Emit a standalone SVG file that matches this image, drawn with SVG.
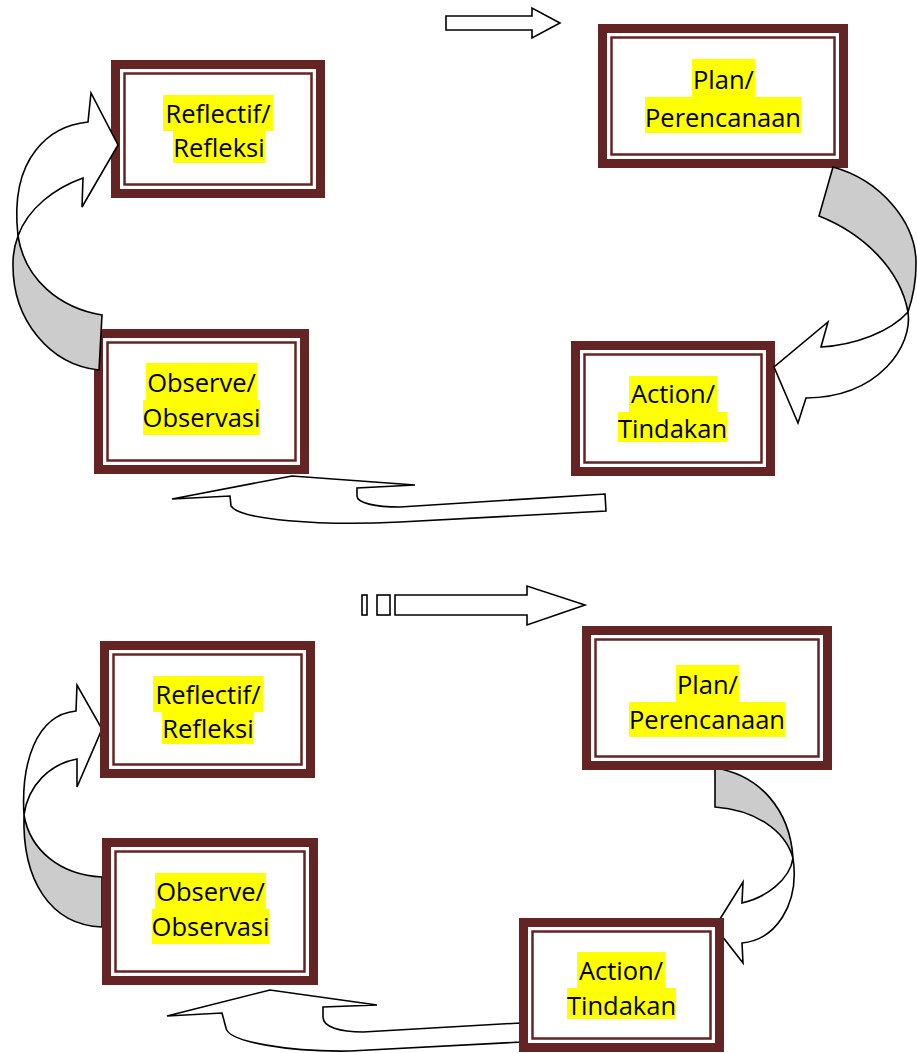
<svg xmlns="http://www.w3.org/2000/svg" width="917" height="1053" viewBox="0 0 917 1053">
<style>
.outer{fill:#652424}
.gap{fill:#ffffff}
.line{fill:#ffffff;stroke:#652424;stroke-width:2.5}
.hl{fill:#ffff00}
.lbl{font-family:"Open Sans","Noto Sans",sans-serif;font-size:25.5px;fill:#000;text-anchor:middle}
.arw{fill:#ffffff;stroke:#000;stroke-width:1.6;stroke-linejoin:miter}
.back{fill:#cccccc;stroke:#000;stroke-width:1.6;stroke-linejoin:miter}
</style>
<rect width="917" height="1053" fill="#ffffff"/>

<!-- top cycle nodes -->
<g id="reflectif1">
<rect class="outer" x="111" y="60" width="214" height="138"/>
<rect class="gap" x="120" y="69" width="196" height="120"/>
<rect class="line" x="124.5" y="73.5" width="187" height="111"/>
<rect class="hl" x="163" y="95" width="110" height="36"/>
<rect class="hl" x="173" y="131" width="92" height="32"/>
<text class="lbl" x="218" y="123">Reflectif/</text>
<text class="lbl" x="219" y="157">Refleksi</text>
</g>
<g id="plan1">
<rect class="outer" x="598" y="24" width="250" height="144"/>
<rect class="gap" x="607" y="33" width="232" height="126"/>
<rect class="line" x="611.5" y="37.5" width="223" height="117"/>
<rect class="hl" x="692" y="59" width="63" height="38"/>
<rect class="hl" x="645" y="97" width="156" height="36"/>
<text class="lbl" x="723.5" y="89">Plan/</text>
<text class="lbl" x="723" y="127">Perencanaan</text>
</g>
<g id="observe1">
<rect class="outer" x="94" y="329" width="215" height="145"/>
<rect class="gap" x="103" y="338" width="197" height="127"/>
<rect class="line" x="107.5" y="342.5" width="188" height="118"/>
<rect class="hl" x="146" y="363" width="111" height="37"/>
<rect class="hl" x="143" y="400" width="117" height="35"/>
<text class="lbl" x="201.5" y="392">Observe/</text>
<text class="lbl" x="201.5" y="427">Observasi</text>
</g>
<g id="action1">
<rect class="outer" x="571" y="341" width="204" height="135"/>
<rect class="gap" x="580" y="350" width="186" height="117"/>
<rect class="line" x="584.5" y="354.5" width="177" height="108"/>
<rect class="hl" x="629" y="376" width="88" height="36"/>
<rect class="hl" x="618" y="412" width="109" height="30"/>
<text class="lbl" x="673" y="403">Action/</text>
<text class="lbl" x="672.5" y="438">Tindakan</text>
</g>

<!-- top cycle connectors -->
<g id="connectors-top">
<polygon class="arw" points="446,16 532,16 532,8 560,23 532,38 532,30 446,30"/>
<path class="back" d="M833,167 C880,180 917,222 916,265 C916,285 912,300 908,312 C900,268 862,233 819,216 Z"/>
<path class="arw" d="M908,312 C913,345 880,397 806,398 L798,423 L774,367 L828,322 L821,347 C855,345 890,332 908,312 Z"/>
<path class="arw" d="M172,499 L292,476 L415,485 L357,488 L357,496 C357,503 375,507 400,507 L605,494 L606,511 L400,522 C320,526 240,520 231,506 L230,496 Z"/>
<path class="back" d="M18,236 C25,280 60,308 102,315 L99,370 C50,365 12,320 13,263 C13,252 15,244 18,236 Z"/>
<path class="arw" d="M88,122 L91,93 L118,145 L82,207 L83,178 C55,188 28,208 18,236 C14,200 20,170 36,150 C50,132 68,124 88,122 Z"/>
</g>

<!-- bottom cycle connectors -->
<g id="connectors-bottom">
<rect class="arw" x="362" y="595" width="5" height="20"/>
<rect class="arw" x="377" y="595" width="13" height="20"/>
<polygon class="arw" points="395,595 527,595 527,586 585,605 527,625 527,615 395,615"/>
<path class="back" d="M715,768 C760,775 790,810 793,858 C785,830 755,810 715,807 Z"/>
<path class="arw" d="M793,858 C800,905 775,940 742,943 L743,963 L715,927 L743,882 L742,903 C765,898 790,880 793,858 Z"/>
<path class="arw" d="M167,1016 L270,990 L377,1005 L323,1007 L323,1017 C323,1027 340,1032 363,1032 L520,1023 L521,1042 L350,1051 C290,1052 228,1042 226,1028 L222,1013 Z"/>
<path class="back" d="M24,815 C30,850 60,875 102,877 L102,927 C50,925 22,880 24,815 Z"/>
<path class="arw" d="M76,711 L77,685 L102,729 L77,787 L77,759 C50,764 28,785 24,815 C21,765 35,715 76,711 Z"/>
</g>

<!-- bottom cycle nodes -->
<g id="reflectif2">
<rect class="outer" x="100" y="641" width="215" height="137"/>
<rect class="gap" x="109" y="650" width="197" height="119"/>
<rect class="line" x="113.5" y="654.5" width="188" height="110"/>
<rect class="hl" x="153" y="676" width="110" height="36"/>
<rect class="hl" x="162" y="712" width="92" height="32"/>
<text class="lbl" x="208" y="704">Reflectif/</text>
<text class="lbl" x="208" y="738">Refleksi</text>
</g>
<g id="plan2">
<rect class="outer" x="582" y="626" width="250" height="144"/>
<rect class="gap" x="591" y="635" width="232" height="126"/>
<rect class="line" x="595.5" y="639.5" width="223" height="117"/>
<rect class="hl" x="676" y="665" width="63" height="37"/>
<rect class="hl" x="629" y="702" width="156" height="35"/>
<text class="lbl" x="707.5" y="694">Plan/</text>
<text class="lbl" x="707" y="729">Perencanaan</text>
</g>
<g id="observe2">
<rect class="outer" x="102" y="838" width="216" height="147"/>
<rect class="gap" x="111" y="847" width="198" height="129"/>
<rect class="line" x="115.5" y="851.5" width="189" height="120"/>
<rect class="hl" x="155" y="873" width="111" height="36"/>
<rect class="hl" x="152" y="909" width="117" height="35"/>
<text class="lbl" x="210.5" y="901">Observe/</text>
<text class="lbl" x="210.5" y="936">Observasi</text>
</g>
<g id="action2">
<rect class="outer" x="519" y="918" width="205" height="134"/>
<rect class="gap" x="528" y="927" width="187" height="116"/>
<rect class="line" x="532.5" y="931.5" width="178" height="107"/>
<rect class="hl" x="577" y="952" width="88" height="36"/>
<rect class="hl" x="567" y="988" width="109" height="31"/>
<text class="lbl" x="621" y="980">Action/</text>
<text class="lbl" x="621.5" y="1015">Tindakan</text>
</g>
</svg>
